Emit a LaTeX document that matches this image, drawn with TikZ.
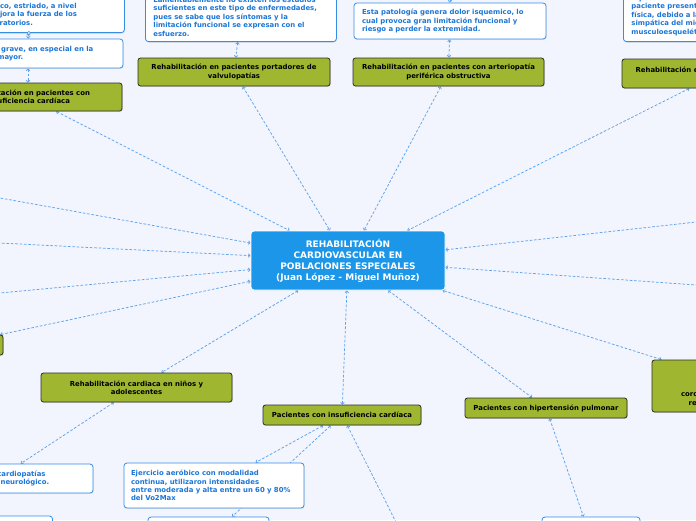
\documentclass[tikz,border=0pt]{standalone}
\usepackage{fontspec}
\setmainfont{DejaVu Sans}
\usetikzlibrary{arrows.meta,shadows}
\definecolor{bgc}{RGB}{242,245,253}
\definecolor{cmain}{RGB}{27,150,232}
\definecolor{cgreen}{RGB}{159,183,48}
\definecolor{cgborder}{RGB}{45,45,40}
\definecolor{cwborder}{RGB}{55,140,228}
\definecolor{ctext}{RGB}{28,118,214}
\definecolor{clink}{RGB}{95,162,236}
\pgfdeclarelayer{background}
\pgfsetlayers{background,main}
\begin{document}
\begin{tikzpicture}[x=1pt,y=-1pt,
  conn/.style={draw=clink, line width=0.75pt, dash pattern=on 2.6pt off 1.8pt,
    {Straight Barb[length=1.8pt,width=3.6pt]}-{Straight Barb[length=1.8pt,width=3.6pt]}},
  mainbox/.style={fill=cmain, draw=white, line width=0.8pt, rounded corners=3pt,
    text=white, align=center, inner sep=0pt,
    font=\fontsize{9}{11}\selectfont\bfseries},
  gbox/.style={fill=cgreen, draw=cgborder, line width=0.8pt, rounded corners=2.5pt,
    text=black, align=center, inner sep=0pt,
    font=\fontsize{6.9}{8.2}\selectfont\bfseries,
    drop shadow={opacity=0.25, shadow xshift=0.8pt, shadow yshift=-0.9pt}},
  wbox/.style={fill=white, draw=cwborder, line width=0.8pt, rounded corners=3pt,
    text=ctext, align=left, inner xsep=8pt, inner ysep=5pt,
    font=\fontsize{6.9}{8.4}\selectfont\bfseries,
    drop shadow={opacity=0.18, shadow xshift=0.6pt, shadow yshift=-0.9pt}},
  knob/.style={circle, draw=cwborder, fill=white, line width=0.6pt, minimum size=3.2pt, inner sep=0pt}]
\useasboundingbox (0,0) rectangle (696,520);

% central node
\node[mainbox, minimum width=194pt, minimum height=59pt] (c) at (348,260.5)
  {REHABILITACIÓN\\CARDIOVASCULAR EN\\POBLACIONES ESPECIALES\\(Juan López - Miguel Muñoz)};

% green topic nodes
\node[gbox, minimum width=188pt, minimum height=28pt] (g1) at (28,97)
  {Rehabilitación en pacientes con\\insuficiencia cardíaca};
\node[gbox, minimum width=192pt, minimum height=28pt] (g2) at (234,72)
  {Rehabilitación en pacientes portadores de\\valvulopatías};
\node[gbox, minimum width=191pt, minimum height=28pt] (g3) at (448.5,72)
  {Rehabilitación en pacientes con arteriopatía\\periférica obstructiva};
\node[gbox, minimum width=194pt, minimum height=29pt] (g4) at (719,73.5)
  {Rehabilitación en pacientes con trasplante\\cardíaco};
\node[gbox, minimum width=103pt, minimum height=20pt] (g5) at (-48.5,345) {};
\node[gbox, minimum width=191pt, minimum height=29pt] (g6) at (136.5,387.5)
  {Rehabilitación cardiaca en niños y\\adolescentes};
\node[gbox, minimum width=158pt, minimum height=20pt] (g7) at (342,415)
  {Pacientes con insuficiencia cardíaca};
\node[gbox, minimum width=162pt, minimum height=20pt] (g8) at (546,408)
  {Pacientes con hipertensión pulmonar};
\node[gbox, minimum width=186pt, minimum height=52pt] (g9) at (745,386)
  {Rehabilitación en\\pacientes con\\enfermedad arterial\\coronaria sometidos a cirugía de\\revascularización miocárdica};

% white text nodes
\node[wbox, anchor=south west, text width=175pt, inner ysep=6pt] (w1) at (-67,33)
  {El entrenamiento aumenta la masa del\\músculo cardíaco, estriado, a nivel\\periférico y mejora la fuerza de los\\músculos respiratorios.};
\node[wbox, text width=174pt, minimum height=29pt] (w2) at (28,53.5)
  {la insuficiencia grave, en especial en la\\a la población mayor.};
\node[wbox, anchor=south west, text width=175pt, inner ysep=5.5pt] (w3) at (145,42)
  {Lamentablemente no existen los estudios\\suficientes en este tipo de enfermedades,\\pues se sabe que los síntomas y la\\limitación funcional se expresan con el\\esfuerzo.};
\node[wbox, text width=176pt, minimum height=36pt] (w4) at (450,21)
  {Esta patología genera dolor isquemico, lo\\cual provoca gran limitación funcional y\\riesgo a perder la extremidad.};
\node[wbox, anchor=south west, text width=170pt, inner ysep=6pt] (w5) at (623,42)
  {A pesar de realizar el trasplante, el\\paciente presenta una baja capacidad\\física, debido a la denervación\\simpática del miocardio y al desgaste\\musculoesquelético.};
\node[wbox, text width=174pt, minimum height=29pt] (w6) at (-2,478.5)
  {Se incluyen niños con cardiopatías\\congénitas o con daño neurológico.};
\node[wbox, minimum width=113pt, minimum height=40pt] (w7) at (-4,536) {};
\node[wbox, text width=166pt, inner xsep=7pt, minimum height=45pt] (w8) at (214,485.5)
  {Ejercicio aeróbico con modalidad\\continua, utilizaron intensidades\\entre moderada y alta entre un 60 y 80\%\\del Vo2Max};
\node[wbox, minimum width=121pt, minimum height=43pt] (w9) at (208.5,538.5) {};
\node[wbox, minimum width=98pt, minimum height=43pt] (w10) at (591,538.5) {};

% free ends of connectors leaving the picture
\coordinate (L1) at (-100,180);
\coordinate (L2) at (-100,238);
\coordinate (L3) at (-100,302.3);
\coordinate (R1) at (800,210.5);
\coordinate (R2) at (800,292.3);
\coordinate (T1) at (450,-20);
\coordinate (B1) at (405,540);

\begin{pgfonlayer}{background}
\fill[bgc] (0,0) rectangle (696,520);
\draw[conn] (w1) -- (w2);
\draw[conn] (w2) -- (g1);
\draw[conn] (w3) -- (g2);
\draw[conn] (w4) -- (g3);
\draw[conn] (T1) -- (w4);
\draw[conn] (w5) -- (g4);
\draw[conn] (g1) -- (c);
\draw[conn] (g2) -- (c);
\draw[conn] (g3) -- (c);
\draw[conn] (g4) -- (c);
\draw[conn] (L1) -- (c);
\draw[conn] (L2) -- (c);
\draw[conn] (L3) -- (c);
\draw[conn] (g5) -- (c);
\draw[conn] (R1) -- (c);
\draw[conn] (R2) -- (c);
\draw[conn] (g9) -- (c);
\draw[conn] (c) -- (g6);
\draw[conn] (c) -- (g7);
\draw[conn] (c) -- (g8);
\draw[conn] (g6) -- (w6);
\draw[conn] (g7) -- (w8);
\draw[conn] (g7) -- (w9);
\draw[conn] (g7) -- (B1);
\draw[conn] (g8) -- (w10);
\end{pgfonlayer}
\node[knob] (k1) at (w1.south) {};
\end{tikzpicture}
\end{document}
